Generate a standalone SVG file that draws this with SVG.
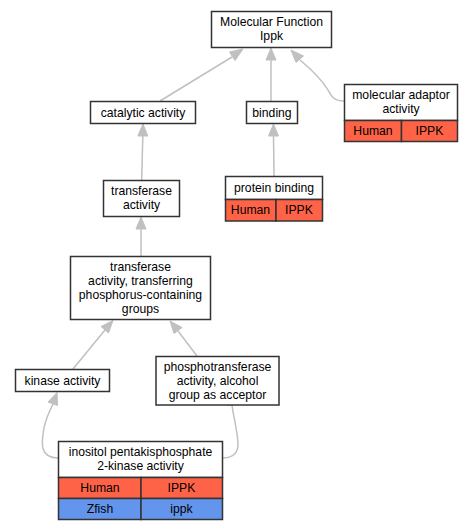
<svg xmlns="http://www.w3.org/2000/svg" width="472" height="531" viewBox="0 0 472 531">
<style>
.b{fill:#fff;stroke:#333;stroke-width:1.5}
.r{fill:#ff6347;stroke:#333;stroke-width:1.5}
.u{fill:#6495ed;stroke:#333;stroke-width:1.5}
text{font-family:"Liberation Sans",Arial,sans-serif;font-size:12.2px;text-anchor:middle;fill:#000}
.e{fill:none;stroke:#c0c0c0;stroke-width:1.5}
.h{fill:#c0c0c0;stroke:#c0c0c0;stroke-width:1}
</style>
<rect width="472" height="531" fill="#fff"/>
<g id="edges">
<path class="e" d="M160,101 L232,57"/>
<polygon class="h" points="243,49 229.5,52 235,60.5"/>
<path class="e" d="M271,101 L271,60"/>
<polygon class="h" points="271,48 266,60 276,60"/>
<path class="e" d="M344,101 C334,101 332,97 328,90 C322,80 312,70 300,60"/>
<polygon class="h" points="291,50 296,62.5 303.5,56"/>
<path class="e" d="M274,176 L273.5,136"/>
<polygon class="h" points="273.5,124 268.5,136 278.5,136"/>
<path class="e" d="M141.7,180 L142.8,136"/>
<polygon class="h" points="143,124 137.8,136 147.8,136"/>
<path class="e" d="M141,256 L141,229"/>
<polygon class="h" points="141,217 136,229 146,229"/>
<path class="e" d="M73,369 L105,330"/>
<polygon class="h" points="113,320.5 101,326.5 108.5,333"/>
<path class="e" d="M197,356 L178,331"/>
<polygon class="h" points="170,321 174,333.5 182,327.5"/>
<path class="e" d="M58,458 C38,458 42,440 44,428 C46,418 49,412 53,404"/>
<polygon class="h" points="57,392.5 48,402 57.5,405.5"/>
<path class="e" d="M223,458 C243,458 238,440 236,428 C235,420 233,414 232,405"/>
<polygon class="h" points="230,393 226.5,405.5 236.5,404.5"/>
</g>
<g id="n_mf">
<rect class="b" x="211.5" y="11.5" width="120" height="36"/>
<text x="271.5" y="25.5">Molecular Function</text>
<text x="271.5" y="39.5">Ippk</text>
</g>
<g id="n_catalytic">
<rect class="b" x="90.5" y="101.5" width="105" height="22"/>
<text x="143" y="117">catalytic activity</text>
</g>
<g id="n_binding">
<rect class="b" x="246.5" y="101.5" width="51" height="22"/>
<text x="272" y="117">binding</text>
</g>
<g id="n_adaptor">
<rect class="b" x="344.5" y="84.5" width="113" height="36"/>
<rect class="r" x="344.5" y="120.5" width="57" height="21"/>
<rect class="r" x="401.5" y="120.5" width="56" height="21"/>
<text x="401" y="98.5">molecular adaptor</text>
<text x="401" y="112.5">activity</text>
<text x="373" y="135">Human</text>
<text x="429.5" y="135">IPPK</text>
</g>
<g id="n_transferase">
<rect class="b" x="103.5" y="180.5" width="76" height="36"/>
<text x="141.5" y="194.5">transferase</text>
<text x="141.5" y="208.5">activity</text>
</g>
<g id="n_protein">
<rect class="b" x="225.5" y="176.5" width="97" height="23"/>
<rect class="r" x="225.5" y="199.5" width="50.5" height="21.5"/>
<rect class="r" x="276" y="199.5" width="46.5" height="21.5"/>
<text x="274" y="192">protein binding</text>
<text x="250.5" y="214">Human</text>
<text x="299" y="214">IPPK</text>
</g>
<g id="n_transferring">
<rect class="b" x="70.5" y="256.5" width="140" height="63"/>
<text x="140.5" y="270.5">transferase</text>
<text x="140.5" y="284.5">activity, transferring</text>
<text x="140.5" y="298.5">phosphorus-containing</text>
<text x="140.5" y="312.5">groups</text>
</g>
<g id="n_kinase">
<rect class="b" x="15.5" y="369.5" width="94" height="22"/>
<text x="62.5" y="385">kinase activity</text>
</g>
<g id="n_phospho">
<rect class="b" x="156" y="356.5" width="123" height="48.5"/>
<text x="217.5" y="370.5">phosphotransferase</text>
<text x="217.5" y="384.5">activity, alcohol</text>
<text x="217.5" y="398.5">group as acceptor</text>
</g>
<g id="n_inositol">
<rect class="b" x="58.5" y="441.5" width="164" height="36"/>
<rect class="r" x="58.5" y="477.5" width="82.5" height="21"/>
<rect class="r" x="141" y="477.5" width="81.5" height="21"/>
<rect class="u" x="58.5" y="498.5" width="82.5" height="21"/>
<rect class="u" x="141" y="498.5" width="81.5" height="21"/>
<text x="140.5" y="455.5">inositol pentakisphosphate</text>
<text x="140.5" y="469.5">2-kinase activity</text>
<text x="100" y="492">Human</text>
<text x="181.5" y="492">IPPK</text>
<text x="100" y="513">Zfish</text>
<text x="181.5" y="513">ippk</text>
</g>
</svg>
